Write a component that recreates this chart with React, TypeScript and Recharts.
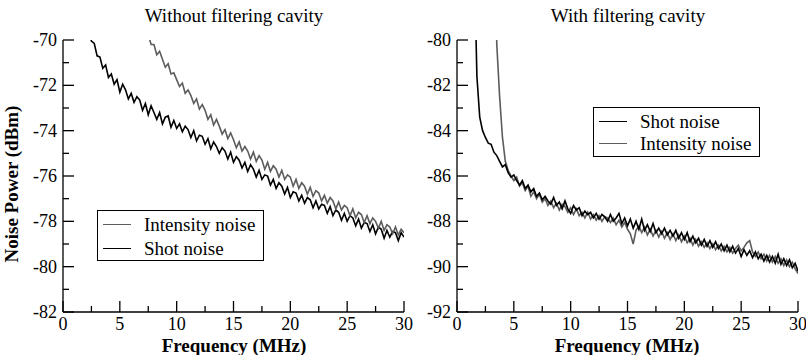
import React from 'react';
import {LineChart, Line, XAxis, YAxis} from 'recharts';

const STEP = 0.25;

// Without filtering cavity (dBm), sampled every 0.25 MHz
const leftShotStart = 2.25;
const leftShot = [
  -69.5, -70.05, -70.15, -70.7, -70.75, -71.25, -71.1, -71.65, -71.5, -71.95,
  -71.75, -72.3, -71.95, -72.2, -72.6, -72.35, -72.75, -72.5, -72.65, -73.1,
  -72.8, -73.3, -72.9, -73.2, -73.5, -73.2, -73.7, -73.4, -73.35, -73.85,
  -73.55, -73.9, -73.7, -74.05, -73.8, -73.95, -74.3, -74.0, -74.45, -74.2,
  -74.25, -74.6, -74.35, -74.8, -74.5, -74.7, -75.0, -74.75, -74.9, -75.25,
  -74.95, -75.4, -75.15, -75.3, -75.65, -75.4, -75.8, -75.5, -75.7, -76.05,
  -75.75, -76.15, -75.95, -76.0, -76.4, -76.15, -76.55, -76.3, -76.45, -76.8,
  -76.5, -76.95, -76.7, -76.75, -77.1, -76.85, -77.2, -76.95, -77.05, -77.4,
  -77.1, -77.45, -77.25, -77.3, -77.65, -77.35, -77.75, -77.5, -77.6, -77.95,
  -77.65, -78.0, -77.75, -77.85, -78.2, -77.9, -78.3, -78.05, -78.1, -78.45,
  -78.15, -78.55, -78.25, -78.35, -78.75, -78.4, -78.7, -78.45, -78.5, -78.85,
  -78.5, -78.7,
];
const leftIntensityStart = 7.5;
const leftIntensity = [
  -69.75, -70.2, -70.2, -70.65, -70.5, -70.85, -71.2, -71.05, -71.5, -71.45,
  -71.75, -72.05, -71.9, -72.35, -72.2, -72.45, -72.8, -72.6, -73.05, -72.85,
  -73.1, -73.5, -73.3, -73.75, -73.5, -73.8, -74.15, -73.95, -74.35, -74.1,
  -74.4, -74.75, -74.5, -74.9, -74.7, -74.9, -75.25, -74.95, -75.35, -75.1,
  -75.3, -75.7, -75.4, -75.8, -75.55, -75.7, -76.05, -75.75, -76.15, -75.95,
  -76.05, -76.45, -76.15, -76.55, -76.3, -76.45, -76.8, -76.5, -76.9, -76.65,
  -76.75, -77.1, -76.85, -77.2, -76.95, -77.1, -77.45, -77.15, -77.5, -77.3,
  -77.4, -77.75, -77.45, -77.85, -77.6, -77.7, -78.05, -77.75, -78.1, -77.85,
  -78.0, -78.3, -78.0, -78.4, -78.15, -78.25, -78.55, -78.25, -78.6, -78.35,
  -78.5,
];

// With filtering cavity (dBm)
const rightShotStart = 1.5;
const rightShot = [
  -76.0, -81.6, -83.4, -84.0, -84.3, -84.55, -84.6, -84.95, -85.1, -85.35,
  -85.6, -85.5, -85.85, -86.05, -85.95, -86.2, -86.4, -86.2, -86.55, -86.4,
  -86.7, -86.55, -86.9, -86.75, -87.05, -86.9, -87.1, -87.25, -86.95, -87.3,
  -87.15, -87.45, -87.1, -87.45, -87.65, -87.3, -87.5, -87.4, -87.75, -87.55,
  -87.7, -87.6, -87.85, -87.65, -87.9, -87.7, -87.8, -88.0, -87.7, -88.0,
  -87.85, -87.65, -88.1, -87.85, -88.2, -87.9, -88.3, -88.0, -88.35, -87.9,
  -88.4, -88.15, -88.45, -88.1, -88.5, -88.3, -88.55, -88.3, -88.6, -88.4,
  -88.65, -88.4, -88.75, -88.5, -88.8, -88.5, -88.9, -88.65, -88.95, -88.75,
  -89.05, -88.8, -89.1, -88.85, -89.15, -88.9, -89.2, -89.0, -89.3, -89.05,
  -89.35, -89.1, -89.4, -89.2, -89.55, -89.25, -89.5, -89.3, -89.6, -89.35,
  -89.65, -89.45, -89.75, -89.5, -89.8, -89.55, -89.85, -89.45, -89.9, -89.65,
  -89.95, -89.7, -90.05, -89.85, -90.2,
];
const rightIntensityStart = 3.25;
const rightIntensity = [
  -74.0, -80.2, -82.5, -84.3, -85.35, -85.75, -86.0, -86.2, -86.05, -86.45,
  -86.3, -86.65, -86.45, -86.9, -86.7, -87.0, -86.8, -87.15, -87.0, -87.3,
  -87.1, -87.4, -87.2, -87.5, -87.25, -87.35, -87.6, -87.4, -87.7, -87.45,
  -87.75, -87.6, -87.85, -87.6, -87.9, -87.7, -87.95, -87.75, -88.0, -87.8,
  -87.85, -88.05, -87.85, -88.15, -87.95, -88.25, -88.05, -88.35, -88.55, -89.0,
  -88.4, -88.2, -88.5, -88.25, -88.6, -88.35, -88.65, -88.4, -88.7, -88.45,
  -88.75, -88.5, -88.8, -88.55, -88.85, -88.6, -88.9, -88.65, -88.95, -88.75,
  -89.05, -88.8, -89.1, -88.9, -89.15, -88.95, -89.2, -89.0, -89.25, -89.05,
  -89.3, -89.1, -89.35, -89.15, -89.4, -89.2, -89.05, -89.3, -89.15, -88.95,
  -88.85, -89.35, -89.55, -89.35, -89.65, -89.45, -89.75, -89.5, -89.8, -89.55,
  -89.85, -89.65, -89.95, -89.7, -90.0, -89.8, -90.1, -90.3,
];

const xTicks = [0, 2.5, 5, 7.5, 10, 12.5, 15, 17.5, 20, 22.5, 25, 27.5, 30];
const leftYTicks = [-82, -81, -80, -79, -78, -77, -76, -75, -74, -73, -72, -71, -70];
const rightYTicks = [-92, -91, -90, -89, -88, -87, -86, -85, -84, -83, -82, -81, -80];

const toPoints = (start: number, values: number[]) =>
  values.map((v, i) => ({f: start + i * STEP, v}));

const FONT = "'Liberation Serif', 'Times New Roman', Times, serif";
const DARK = '#000';
const GRAY = '#5c5c5c';

const BottomTick = ({x, y, payload}: any) => {
  const major = payload.value % 5 === 0;
  return (
    <g>
      <line x1={x} y1={y} x2={x} y2={y - (major ? 11 : 6)} stroke='#000' strokeWidth={1.3} />
      {major && (
        <text x={x} y={y + 18} textAnchor='middle' fontSize={18} fontFamily={FONT} fill='#000'>
          {payload.value}
        </text>
      )}
    </g>
  );
};

const TopTick = ({x, y, payload}: any) => {
  const major = payload.value % 5 === 0;
  return <line x1={x} y1={y} x2={x} y2={y + (major ? 11 : 6)} stroke='#000' strokeWidth={1.3} />;
};

const LeftTick = ({x, y, payload}: any) => {
  const major = payload.value % 2 === 0;
  return (
    <g>
      <line x1={x} y1={y} x2={x + (major ? 11 : 6)} y2={y} stroke='#000' strokeWidth={1.3} />
      {major && (
        <text x={x - 6} y={y + 6} textAnchor='end' fontSize={18} fontFamily={FONT} fill='#000'>
          {payload.value}
        </text>
      )}
    </g>
  );
};

const RightTick = ({x, y, payload}: any) => {
  const major = payload.value % 2 === 0;
  return <line x1={x} y1={y} x2={x - (major ? 11 : 6)} y2={y} stroke='#000' strokeWidth={1.3} />;
};

const axisLine = {stroke: '#000', strokeWidth: 1.3};

type PanelProps = {
  width: number;
  yWidth: number;
  rightMargin: number;
  yTicks: number[];
  first: {data: {f: number; v: number}[]; color: string};
  second: {data: {f: number; v: number}[]; color: string};
};

const Panel = ({width, yWidth, rightMargin, yTicks, first, second}: PanelProps) => (
  <LineChart
    width={width}
    height={355}
    margin={{top: 40, right: rightMargin, left: 0, bottom: 0}}
  >
    <XAxis
      dataKey='f'
      type='number'
      domain={[0, 30]}
      ticks={xTicks}
      interval={0}
      allowDataOverflow
      height={43}
      tickSize={0}
      tickMargin={0}
      tickLine={false}
      axisLine={axisLine}
      tick={<BottomTick />}
    />
    <XAxis
      xAxisId='top'
      dataKey='f'
      type='number'
      orientation='top'
      domain={[0, 30]}
      ticks={xTicks}
      interval={0}
      height={0}
      tickSize={0}
      tickMargin={0}
      tickLine={false}
      axisLine={axisLine}
      tick={<TopTick />}
    />
    <YAxis
      type='number'
      domain={[yTicks[0], yTicks[yTicks.length - 1]]}
      ticks={yTicks}
      interval={0}
      allowDataOverflow
      width={yWidth}
      tickSize={0}
      tickMargin={0}
      tickLine={false}
      axisLine={axisLine}
      tick={<LeftTick />}
    />
    <YAxis
      yAxisId='right'
      type='number'
      orientation='right'
      domain={[yTicks[0], yTicks[yTicks.length - 1]]}
      ticks={yTicks}
      interval={0}
      width={0}
      tickSize={0}
      tickMargin={0}
      tickLine={false}
      axisLine={axisLine}
      tick={<RightTick />}
    />
    <Line
      data={first.data}
      dataKey='v'
      type='linear'
      stroke={first.color}
      strokeWidth={1.6}
      dot={false}
      isAnimationActive={false}
    />
    <Line
      data={second.data}
      dataKey='v'
      type='linear'
      stroke={second.color}
      strokeWidth={1.6}
      dot={false}
      isAnimationActive={false}
    />
  </LineChart>
);

const LegendBox = ({
  left,
  top,
  width,
  height,
  rows,
  items,
}: {
  left: number;
  top: number;
  width: number;
  height: number;
  rows: number[];
  items: {label: string; color: string}[];
}) => (
  <div
    style={{
      position: 'absolute',
      left,
      top,
      width,
      height,
      border: '1.3px solid #000',
      background: '#fff',
      boxSizing: 'border-box',
      fontFamily: FONT,
      fontSize: 19,
    }}
  >
    {items.map((it, i) => (
      <div
        key={it.label}
        style={{position: 'absolute', left: 0, top: rows[i] - 11, height: 22, width: width - 2}}
      >
        <div
          style={{
            position: 'absolute',
            left: 5,
            top: 10,
            width: 28,
            height: 0,
            borderTop: `1.4px solid ${it.color}`,
          }}
        />
        <div style={{position: 'absolute', left: 46, top: 0, lineHeight: '22px'}}>{it.label}</div>
      </div>
    ))}
  </div>
);

const textStyle: React.CSSProperties = {
  position: 'absolute',
  fontFamily: FONT,
  color: '#000',
  whiteSpace: 'nowrap',
  lineHeight: 1,
  transform: 'translate(-50%, -50%)',
};

export default function App() {
  const lShot = toPoints(leftShotStart, leftShot);
  const lInt = toPoints(leftIntensityStart, leftIntensity);
  const rShot = toPoints(rightShotStart, rightShot);
  const rInt = toPoints(rightIntensityStart, rightIntensity);

  return (
    <div
      style={{
        position: 'absolute',
        left: 0,
        top: 0,
        width: 806,
        height: 355,
        background: '#fff',
        overflow: 'hidden',
      }}
    >
      <div style={{position: 'absolute', left: 0, top: 0}}>
        <Panel
          width={420}
          yWidth={63}
          rightMargin={16}
          yTicks={leftYTicks}
          first={{data: lShot, color: DARK}}
          second={{data: lInt, color: GRAY}}
        />
      </div>
      <div style={{position: 'absolute', left: 400, top: 0}}>
        <Panel
          width={406}
          yWidth={57}
          rightMargin={8}
          yTicks={rightYTicks}
          first={{data: rInt, color: GRAY}}
          second={{data: rShot, color: DARK}}
        />
      </div>

      <div style={{...textStyle, left: 234, top: 15, fontSize: 19}}>Without filtering cavity</div>
      <div style={{...textStyle, left: 628, top: 15, fontSize: 19}}>With filtering cavity</div>
      <div style={{...textStyle, left: 234, top: 345, fontSize: 19, fontWeight: 'bold'}}>
        Frequency (MHz)
      </div>
      <div style={{...textStyle, left: 627, top: 345, fontSize: 19, fontWeight: 'bold'}}>
        Frequency (MHz)
      </div>
      <div
        style={{
          ...textStyle,
          left: 11,
          top: 184,
          fontSize: 19,
          fontWeight: 'bold',
          transform: 'translate(-50%, -50%) rotate(-90deg)',
        }}
      >
        Noise Power (dBm)
      </div>

      <LegendBox
        left={97}
        top={210}
        width={167}
        height={51}
        rows={[14, 38]}
        items={[
          {label: 'Intensity noise', color: GRAY},
          {label: 'Shot noise', color: DARK},
        ]}
      />
      <LegendBox
        left={593}
        top={107}
        width={167}
        height={50}
        rows={[14, 36]}
        items={[
          {label: 'Shot noise', color: DARK},
          {label: 'Intensity noise', color: GRAY},
        ]}
      />
    </div>
  );
}
